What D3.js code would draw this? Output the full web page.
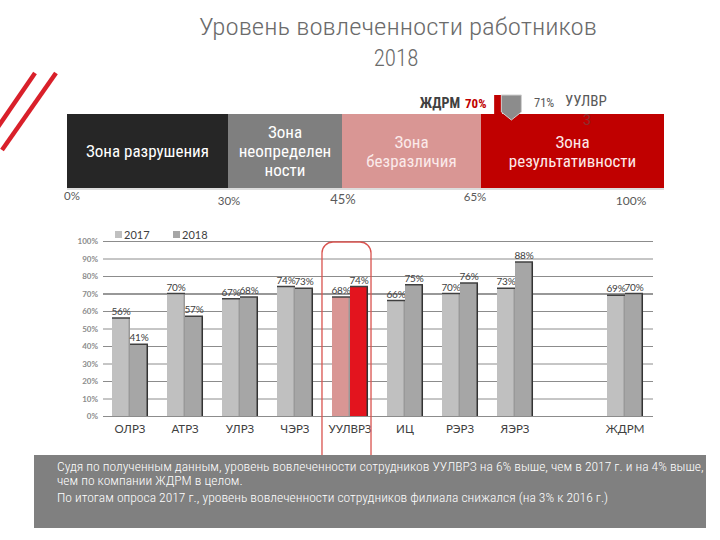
<!DOCTYPE html>
<html><head><meta charset="utf-8">
<script src="https://cdn.jsdelivr.net/npm/d3@7"></script>
<style>
body{margin:0;background:#fff;}
svg{display:block;}
</style></head>
<body>
<svg id="c" width="720" height="540"></svg>
<script>
// ---- data ----
const titleLines = ["Уровень вовлеченности работников", "2018"];
const zoneBounds = [0, 30, 45, 65, 100];
const zoneNames = [["Зона разрушения"], ["Зона", "неопределен", "ности"], ["Зона", "безразличия"], ["Зона", "результативности"]];
const zoneTickLabels = ["0%", "30%", "45%", "65%", "100%"];
const companyValue = 70;   // ЖДРМ
const plantValue = 71;     // УУЛВРЗ
const categories = ["ОЛРЗ", "АТРЗ", "УЛРЗ", "ЧЭРЗ", "УУЛВРЗ", "ИЦ", "РЭРЗ", "ЯЭРЗ", "", "ЖДРМ"];
const seriesNames = ["2017", "2018"];
const values2017 = [56, 70, 67, 74, 68, 66, 70, 73, null, 69];
const values2018 = [41, 57, 68, 73, 74, 75, 76, 88, null, 70];
const yTicks = [0, 10, 20, 30, 40, 50, 60, 70, 80, 90, 100];
const highlight = "УУЛВРЗ";
const noteLines = [
  "Судя по полученным данным, уровень вовлеченности сотрудников УУЛВРЗ на 6% выше, чем в 2017 г. и на 4% выше,",
  "чем по компании ЖДРМ в целом.",
  "По итогам опроса 2017 г., уровень вовлеченности сотрудников филиала снижался (на 3% к 2016 г.)"
];

// ---- drawing ----
const svg = d3.select("#c");
const NARROW = "'Liberation Sans Narrow','Roboto Condensed','Arial Narrow','Liberation Sans',sans-serif";
const CAL = "Lato,'Open Sans','Liberation Sans',sans-serif";

// decorative red slashes
svg.append("line").attr("x1", 35).attr("y1", 73).attr("x2", -2).attr("y2", 127)
  .attr("stroke", "#d9202a").attr("stroke-width", 4.5);
svg.append("line").attr("x1", 56).attr("y1", 73).attr("x2", 2).attr("y2", 150)
  .attr("stroke", "#d9202a").attr("stroke-width", 4.5);

// title
svg.append("text").attr("x", 398).attr("y", 35).attr("text-anchor", "middle")
  .attr("font-family", NARROW).attr("font-weight", 300).attr("font-size", 23).attr("fill", "#6b6b6b")
  .attr("textLength", 398).attr("lengthAdjust", "spacingAndGlyphs").text(titleLines[0]);
svg.append("text").attr("x", 396).attr("y", 66).attr("text-anchor", "middle")
  .attr("font-family", NARROW).attr("font-weight", 300).attr("font-size", 23).attr("fill", "#6b6b6b").text(titleLines[1]);

// zone bar
const zx = d3.scaleLinear().domain(zoneBounds).range([67, 228, 342, 481, 664]);
const zoneColors = ["#262626", "#7f7f7f", "#d99694", "#c00000"];
const zoneTextColors = ["#fff", "#fff", "#fbeaea", "#fde9e9"];
const zTop = 114, zBot = 188;
const zones = d3.range(4).map(i => ({a: zoneBounds[i], b: zoneBounds[i + 1], name: zoneNames[i], i}));
svg.append("g").selectAll("rect").data(zones).join("rect")
  .attr("x", d => zx(d.a)).attr("y", zTop).attr("width", d => zx(d.b) - zx(d.a)).attr("height", zBot - zTop)
  .attr("fill", d => zoneColors[d.i]);
svg.append("rect").attr("x", zx(0)).attr("y", zBot).attr("width", zx(100) - zx(0)).attr("height", 2).attr("fill", "#ddd");

const zt = svg.append("g").selectAll("text").data(zones).join("text")
  .attr("text-anchor", "middle").attr("font-family", NARROW).attr("font-size", 17)
  .attr("fill", d => zoneTextColors[d.i])
  .attr("x", d => (zx(d.a) + zx(d.b)) / 2)
  .attr("y", d => (zTop + zBot) / 2 + 6 - (d.name.length - 1) * 9.5);
zt.selectAll("tspan").data(d => d.name.map((t, k) => ({t, k, x: (zx(d.a) + zx(d.b)) / 2}))).join("tspan")
  .attr("x", d => d.x).attr("dy", d => d.k === 0 ? 0 : 19).text(d => d.t);

// zone tick labels
const zTickDx = [5, 1, 1, -6, -33];
const zTickDy = [200, 205, 204, 201, 205];
const zTickSize = [11.5, 11.5, 13, 11.5, 12];
svg.append("g").selectAll("text").data(zoneBounds).join("text")
  .attr("x", (d, i) => zx(d) + zTickDx[i]).attr("y", (d, i) => zTickDy[i])
  .attr("text-anchor", "middle").attr("font-family", CAL).attr("font-size", (d, i) => zTickSize[i])
  .attr("fill", "#595959").text((d, i) => zoneTickLabels[i]);

// markers
const mTop = 95;
svg.append("rect").attr("x", zx(companyValue) - 13).attr("y", mTop).attr("width", 8).attr("height", zTop - mTop)
  .attr("fill", "#c00000");
const mc = zx(plantValue) - 1;
svg.append("path")
  .attr("d", `M${mc - 10},${mTop} L${mc + 10},${mTop} L${mc + 10},${mTop + 17} L${mc},${mTop + 25} L${mc - 10},${mTop + 17} Z`)
  .attr("fill", "#8c8c8c").attr("stroke", "#d0d0d0").attr("stroke-width", 1);
svg.append("text").attr("x", 460).attr("y", 108).attr("text-anchor", "end")
  .attr("font-family", NARROW).attr("font-weight", "bold").attr("font-size", 14).attr("fill", "#404040").text("ЖДРМ");
svg.append("text").attr("x", 465).attr("y", 108)
  .attr("font-family", NARROW).attr("font-weight", "bold").attr("font-size", 13).attr("fill", "#c00000").text(companyValue + "%");
svg.append("text").attr("x", 534).attr("y", 107)
  .attr("font-family", NARROW).attr("font-size", 12.5).attr("fill", "#595959").text(plantValue + "%");
svg.append("text").attr("x", 565).attr("y", 106)
  .attr("font-family", NARROW).attr("font-size", 15).attr("fill", "#595959").text("УУЛВР");
svg.append("text").attr("x", 583).attr("y", 125)
  .attr("font-family", NARROW).attr("font-size", 15).attr("fill", "#8a3030").text("З");

// ---- bar chart ----
const pL = 103, pR = 653, pT = 241, pB = 416;
const y = d3.scaleLinear().domain([0, 100]).range([pB, pT]);
const x0 = d3.scaleBand().domain(categories.map((c, i) => i)).range([102.5, 652.5]).paddingInner(0.345).paddingOuter(0.1725);
const x1 = d3.scaleBand().domain(seriesNames).range([0, x0.bandwidth()]);

const yAxis = d3.axisLeft(y).tickValues(yTicks).tickSize(-(pR - pL)).tickFormat(d => d + "%");
const yg = svg.append("g").attr("transform", `translate(${pL},0)`).call(yAxis);
yg.select(".domain").remove();
yg.selectAll(".tick line").attr("stroke", d => d === 70 ? "#333" : "#8c8c8c").attr("stroke-width", d => d === 70 ? 1.2 : 1);
yg.selectAll(".tick text").attr("x", -5).attr("font-family", CAL).attr("font-size", 8)
  .attr("font-weight", "bold").attr("fill", "#8c8c8c");

const rows = [];
categories.forEach((c, i) => {
  [values2017, values2018].forEach((arr, s) => {
    if (arr[i] != null) rows.push({c, i, s: seriesNames[s], si: s, v: arr[i]});
  });
});
const fillFor = d => d.c === highlight ? (d.si === 0 ? "#d99694" : "#e3141e") : (d.si === 0 ? "#c0c0c0" : "#a6a6a6");
const bg = svg.append("g");
const bars = bg.selectAll("g").data(rows).join("g")
  .attr("transform", d => `translate(${x0(d.i) + x1(d.s)},0)`);
bars.append("rect").attr("x", 0).attr("y", d => y(d.v)).attr("width", x1.bandwidth()).attr("height", d => pB - y(d.v))
  .attr("fill", fillFor);
bars.append("rect").attr("x", x1.bandwidth() - 1.5).attr("y", d => y(d.v)).attr("width", 1.5).attr("height", d => pB - y(d.v))
  .attr("fill", d => d.si === 1 ? "#333" : "#999");
bars.append("line").attr("x1", 0).attr("x2", x1.bandwidth()).attr("y1", d => y(d.v)).attr("y2", d => y(d.v))
  .attr("stroke", "#404040").attr("stroke-width", 1.5);
bars.append("text").attr("x", x1.bandwidth() / 2).attr("y", d => y(d.v) - 3).attr("text-anchor", "middle")
  .attr("font-family", CAL).attr("font-size", 10).attr("letter-spacing", -0.2).attr("fill", "#404040").text(d => d.v + "%");

svg.append("g").selectAll("text").data(categories).join("text")
  .attr("x", (d, i) => x0(i) + x0.bandwidth() / 2).attr("y", 433).attr("text-anchor", "middle")
  .attr("font-family", CAL).attr("font-size", 11.5).attr("fill", "#404040").text(d => d);

const lg = svg.append("g").attr("font-family", CAL).attr("font-size", 11).attr("fill", "#404040");
seriesNames.forEach((s, k) => {
  const lx = 115 + k * 58;
  lg.append("rect").attr("x", lx).attr("y", 231).attr("width", 7).attr("height", 7).attr("fill", k === 0 ? "#c0c0c0" : "#a6a6a6");
  lg.append("text").attr("x", lx + 9).attr("y", 238.5).text(s);
});

const hi = categories.indexOf(highlight);
svg.append("rect").attr("x", x0(hi) - 10).attr("y", 242).attr("width", x0.bandwidth() + 13).attr("height", 230)
  .attr("rx", 11).attr("fill", "none").attr("stroke", "#d9534f").attr("stroke-width", 1.3);

svg.append("rect").attr("x", 34).attr("y", 455).attr("width", 672).attr("height", 73).attr("fill", "#808080");
const nt = svg.append("g").attr("font-family", NARROW).attr("font-weight", 300).attr("fill", "#fff").attr("font-size", 12);
const ny = [471, 485, 502];
noteLines.forEach((t, k) => nt.append("text").attr("x", 0).attr("y", ny[k]).text(t));
const w = nt.select("text").node().getComputedTextLength();
nt.attr("transform", `translate(57,0) scale(${647 / w},1)`);
</script>
</body></html>
